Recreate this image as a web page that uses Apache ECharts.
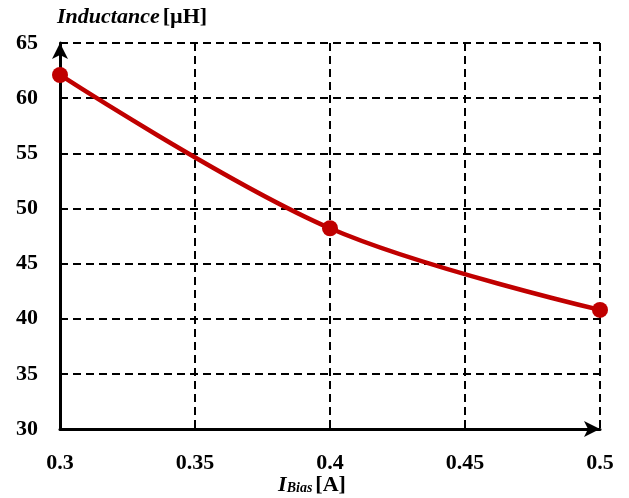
<!DOCTYPE html>
<html lang="en">
<head>
  <meta charset="UTF-8">
  <title>Inductance vs bias current</title>
  <style>
    body { margin: 0; background: #fff; }
    #chart { width: 629px; height: 498px; }
  </style>
</head>
<body>
  <div id="chart"></div>
  <script src="https://cdn.jsdelivr.net/npm/echarts@6/dist/echarts.min.js"></script>
  <script>
    // bias current [A] and measured inductance [uH]
    var biasCurrent = [0.3, 0.4, 0.5];
    var inductance = [62.1, 48.2, 40.8];

    var font = '"Liberation Serif", "Times New Roman", serif';
    var chart = echarts.init(document.getElementById('chart'));

    var gridLine = {
      show: true,
      lineStyle: { color: '#000', type: [8, 5], width: 2 }
    };

    var option = {
      animation: false,
      grid: { left: 60, right: 29, top: 43, bottom: 69, outerBoundsMode: 'none' },
      xAxis: {
        type: 'value',
        min: 0.3,
        max: 0.5,
        interval: 0.05,
        name: '{i|I}{s|Bias} {n|[A]}',
        nameLocation: 'middle',
        nameMoveOverlap: false,
        nameGap: 45,
        nameTextStyle: {
          fontFamily: font,
          padding: [0, 36, 0, 0],
          rich: {
            i: { fontFamily: font, fontSize: 22, fontWeight: 'bold', fontStyle: 'italic', color: '#000' },
            s: { fontFamily: font, fontSize: 14, fontWeight: 'bold', fontStyle: 'italic', color: '#000', padding: [7, 0, 0, 0] },
            n: { fontFamily: font, fontSize: 22, fontWeight: 'bold', color: '#000' }
          }
        },
        axisLine: {
          show: true,
          symbol: ['none', 'arrow'],
          symbolSize: [12, 16],
          lineStyle: { color: '#000', width: 3 }
        },
        axisTick: { show: false },
        axisLabel: {
          margin: 23,
          fontFamily: font,
          fontSize: 22,
          fontWeight: 'bold',
          color: '#000',
          formatter: function (v) { return +v.toFixed(2) + ''; }
        },
        splitLine: gridLine
      },
      yAxis: {
        type: 'value',
        min: 30,
        max: 65,
        interval: 5,
        name: '{i|Inductance} {n|[µH]}',
        nameLocation: 'end',
        nameGap: 15,
        nameTextStyle: {
          align: 'left',
          padding: [0, 0, 0, -3],
          fontFamily: font,
          rich: {
            i: { fontFamily: font, fontSize: 22, fontWeight: 'bold', fontStyle: 'italic', color: '#000' },
            n: { fontFamily: font, fontSize: 22, fontWeight: 'bold', color: '#000' }
          }
        },
        axisLine: {
          show: true,
          symbol: ['none', 'arrow'],
          symbolSize: [12, 16],
          lineStyle: { color: '#000', width: 3 }
        },
        axisTick: { show: false },
        axisLabel: {
          margin: 22,
          fontFamily: font,
          fontSize: 22,
          fontWeight: 'bold',
          color: '#000'
        },
        splitLine: gridLine
      },
      series: [
        {
          type: 'line',
          data: biasCurrent.map(function (x, i) { return [x, inductance[i]]; }),
          smooth: 0.35,
          symbol: 'circle',
          symbolSize: 16,
          itemStyle: { color: '#C00000' },
          lineStyle: { color: '#C00000', width: 4.5 }
        }
      ]
    };

    chart.setOption(option);
  </script>
</body>
</html>
